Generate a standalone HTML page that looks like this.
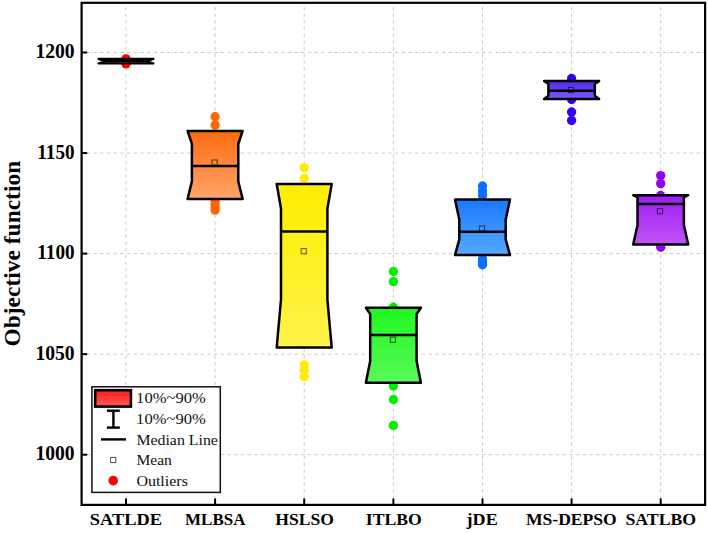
<!DOCTYPE html><html><head><meta charset="utf-8"><style>html,body{margin:0;padding:0;background:#fff;}svg{display:block;}text{font-family:"Liberation Serif",serif;}</style></head><body>
<svg width="708" height="533" viewBox="0 0 708 533">
<defs>
<linearGradient id="g0" x1="0" y1="0" x2="0" y2="1"><stop offset="0" stop-color="#ff1a1a"/><stop offset="1" stop-color="#ff5a5a"/></linearGradient>
<linearGradient id="g1" x1="0" y1="0" x2="0" y2="1"><stop offset="0" stop-color="#ff6a10"/><stop offset="1" stop-color="#ffa66a"/></linearGradient>
<linearGradient id="g2" x1="0" y1="0" x2="0" y2="1"><stop offset="0" stop-color="#ffee00"/><stop offset="1" stop-color="#fff34a"/></linearGradient>
<linearGradient id="g3" x1="0" y1="0" x2="0" y2="1"><stop offset="0" stop-color="#1ef81e"/><stop offset="1" stop-color="#5afa5a"/></linearGradient>
<linearGradient id="g4" x1="0" y1="0" x2="0" y2="1"><stop offset="0" stop-color="#1a78ff"/><stop offset="1" stop-color="#55aaff"/></linearGradient>
<linearGradient id="g5" x1="0" y1="0" x2="0" y2="1"><stop offset="0" stop-color="#4f25f0"/><stop offset="1" stop-color="#7d5cf8"/></linearGradient>
<linearGradient id="g6" x1="0" y1="0" x2="0" y2="1"><stop offset="0" stop-color="#9c1cf2"/><stop offset="1" stop-color="#c155f8"/></linearGradient>
<linearGradient id="gl" x1="0" y1="0" x2="0" y2="1"><stop offset="0" stop-color="#ff1a1a"/><stop offset="1" stop-color="#ff5a5a"/></linearGradient>
</defs>
<rect x="0" y="0" width="708" height="533" fill="#fff"/>
<g stroke="#cccccc" stroke-width="1" fill="none"><line x1="126.0" y1="2.8" x2="126.0" y2="504.9" stroke-dasharray="3.4 3.3" stroke-dashoffset="2.7"/><line x1="215.1" y1="2.8" x2="215.1" y2="504.9" stroke-dasharray="3.4 3.3" stroke-dashoffset="2.7"/><line x1="304.2" y1="2.8" x2="304.2" y2="504.9" stroke-dasharray="3.4 3.3" stroke-dashoffset="2.7"/><line x1="393.4" y1="2.8" x2="393.4" y2="504.9" stroke-dasharray="3.4 3.3" stroke-dashoffset="2.7"/><line x1="482.5" y1="2.8" x2="482.5" y2="504.9" stroke-dasharray="3.4 3.3" stroke-dashoffset="2.7"/><line x1="571.6" y1="2.8" x2="571.6" y2="504.9" stroke-dasharray="3.4 3.3" stroke-dashoffset="2.7"/><line x1="660.7" y1="2.8" x2="660.7" y2="504.9" stroke-dasharray="3.4 3.3" stroke-dashoffset="2.7"/><line x1="81.6" y1="454.70" x2="705.1" y2="454.70" stroke-dasharray="3.5 3.2" stroke-dashoffset="1.6"/><line x1="81.6" y1="354.15" x2="705.1" y2="354.15" stroke-dasharray="3.5 3.2" stroke-dashoffset="1.6"/><line x1="81.6" y1="253.60" x2="705.1" y2="253.60" stroke-dasharray="3.5 3.2" stroke-dashoffset="1.6"/><line x1="81.6" y1="153.05" x2="705.1" y2="153.05" stroke-dasharray="3.5 3.2" stroke-dashoffset="1.6"/><line x1="81.6" y1="52.50" x2="705.1" y2="52.50" stroke-dasharray="3.5 3.2" stroke-dashoffset="1.6"/></g>
<circle cx="126.0" cy="58.9" r="4.65" fill="#ff0000"/><circle cx="126.0" cy="63.9" r="4.65" fill="#ff0000"/>
<polygon points="98.50,58.90 153.50,58.90 146.50,61.20 146.50,61.20 153.50,63.50 98.50,63.50 105.50,61.20 105.50,61.20" fill="url(#g0)" stroke="#000" stroke-width="2.1" stroke-linejoin="round"/>
<line x1="105.50" y1="61.2" x2="146.50" y2="61.2" stroke="#000" stroke-width="2.6"/>
<circle cx="215.1" cy="116.7" r="4.65" fill="#ff6600"/><circle cx="215.1" cy="125.1" r="4.65" fill="#ff6600"/><circle cx="215.1" cy="201.5" r="4.65" fill="#ff6600"/><circle cx="215.1" cy="204.5" r="4.65" fill="#ff6600"/><circle cx="215.1" cy="207.5" r="4.65" fill="#ff6600"/><circle cx="215.1" cy="210.1" r="4.65" fill="#ff6600"/>
<polygon points="187.60,131.00 242.60,131.00 238.30,143.80 238.30,181.40 242.60,199.00 187.60,199.00 191.90,181.40 191.90,143.80" fill="url(#g1)" stroke="#000" stroke-width="2.5" stroke-linejoin="round"/>
<line x1="191.90" y1="166.0" x2="238.30" y2="166.0" stroke="#000" stroke-width="2.5"/>
<rect x="212.00" y="160.00" width="5.2" height="5.2" fill="none" stroke="#000" stroke-opacity="0.55" stroke-width="1.2"/>
<circle cx="304.2" cy="167.8" r="4.65" fill="#ffec00"/><circle cx="304.2" cy="178.5" r="4.65" fill="#ffec00"/><circle cx="304.2" cy="365.0" r="4.65" fill="#ffec00"/><circle cx="304.2" cy="370.0" r="4.65" fill="#ffec00"/><circle cx="304.2" cy="376.7" r="4.65" fill="#ffec00"/>
<polygon points="276.70,184.10 331.70,184.10 327.40,208.50 327.40,299.60 331.70,347.60 276.70,347.60 281.00,299.60 281.00,208.50" fill="url(#g2)" stroke="#000" stroke-width="2.5" stroke-linejoin="round"/>
<line x1="281.00" y1="231.6" x2="327.40" y2="231.6" stroke="#000" stroke-width="2.5"/>
<rect x="301.15" y="248.60" width="5.2" height="5.2" fill="none" stroke="#000" stroke-opacity="0.55" stroke-width="1.2"/>
<circle cx="393.4" cy="271.5" r="4.65" fill="#00f000"/><circle cx="393.4" cy="281.6" r="4.65" fill="#00f000"/><circle cx="393.4" cy="307.2" r="4.65" fill="#00f000"/><circle cx="393.4" cy="386.0" r="4.65" fill="#00f000"/><circle cx="393.4" cy="399.5" r="4.65" fill="#00f000"/><circle cx="393.4" cy="425.4" r="4.65" fill="#00f000"/>
<polygon points="365.90,307.70 420.90,307.70 416.60,314.00 416.60,361.00 420.90,382.70 365.90,382.70 370.20,361.00 370.20,314.00" fill="url(#g3)" stroke="#000" stroke-width="2.5" stroke-linejoin="round"/>
<line x1="370.20" y1="334.9" x2="416.60" y2="334.9" stroke="#000" stroke-width="2.5"/>
<rect x="390.30" y="337.10" width="5.2" height="5.2" fill="none" stroke="#000" stroke-opacity="0.55" stroke-width="1.2"/>
<circle cx="482.5" cy="186.0" r="4.65" fill="#0a6eff"/><circle cx="482.5" cy="191.0" r="4.65" fill="#0a6eff"/><circle cx="482.5" cy="195.5" r="4.65" fill="#0a6eff"/><circle cx="482.5" cy="259.0" r="4.65" fill="#0a6eff"/><circle cx="482.5" cy="262.0" r="4.65" fill="#0a6eff"/><circle cx="482.5" cy="264.8" r="4.65" fill="#0a6eff"/>
<polygon points="455.00,199.60 510.00,199.60 505.70,219.60 505.70,239.30 510.00,255.10 455.00,255.10 459.30,239.30 459.30,219.60" fill="url(#g4)" stroke="#000" stroke-width="2.5" stroke-linejoin="round"/>
<line x1="459.30" y1="231.8" x2="505.70" y2="231.8" stroke="#000" stroke-width="2.5"/>
<rect x="479.40" y="225.90" width="5.2" height="5.2" fill="none" stroke="#000" stroke-opacity="0.55" stroke-width="1.2"/>
<circle cx="571.6" cy="78.5" r="4.65" fill="#3300f0"/><circle cx="571.6" cy="99.5" r="4.65" fill="#3300f0"/><circle cx="571.6" cy="112.0" r="4.65" fill="#3300f0"/><circle cx="571.6" cy="120.5" r="4.65" fill="#3300f0"/>
<polygon points="544.10,80.90 599.10,80.90 594.80,84.00 594.80,95.80 599.10,98.90 544.10,98.90 548.40,95.80 548.40,84.00" fill="url(#g5)" stroke="#000" stroke-width="2.5" stroke-linejoin="round"/>
<line x1="548.40" y1="90.7" x2="594.80" y2="90.7" stroke="#000" stroke-width="2.5"/>
<rect x="568.40" y="87.40" width="5.2" height="5.2" fill="none" stroke="#000" stroke-opacity="0.55" stroke-width="1.2"/>
<circle cx="660.7" cy="175.6" r="4.65" fill="#9600f0"/><circle cx="660.7" cy="183.6" r="4.65" fill="#9600f0"/><circle cx="660.7" cy="195.5" r="4.65" fill="#9600f0"/><circle cx="660.7" cy="247.3" r="4.65" fill="#9600f0"/>
<polygon points="633.20,195.20 688.20,195.20 683.90,197.30 683.90,225.00 688.20,244.50 633.20,244.50 637.50,225.00 637.50,197.30" fill="url(#g6)" stroke="#000" stroke-width="2.5" stroke-linejoin="round"/>
<line x1="637.50" y1="204.1" x2="683.90" y2="204.1" stroke="#000" stroke-width="2.5"/>
<rect x="657.40" y="208.60" width="5.2" height="5.2" fill="none" stroke="#000" stroke-opacity="0.55" stroke-width="1.2"/>
<rect x="81.6" y="2.8" width="623.50" height="502.10" fill="none" stroke="#000" stroke-width="2.2"/>
<g stroke="#000" stroke-width="2"><line x1="81.6" y1="454.70" x2="87.20" y2="454.70"/><line x1="81.6" y1="354.15" x2="87.20" y2="354.15"/><line x1="81.6" y1="253.60" x2="87.20" y2="253.60"/><line x1="81.6" y1="153.05" x2="87.20" y2="153.05"/><line x1="81.6" y1="52.50" x2="87.20" y2="52.50"/><line x1="126.0" y1="504.9" x2="126.0" y2="498.50"/><line x1="215.1" y1="504.9" x2="215.1" y2="498.50"/><line x1="304.2" y1="504.9" x2="304.2" y2="498.50"/><line x1="393.4" y1="504.9" x2="393.4" y2="498.50"/><line x1="482.5" y1="504.9" x2="482.5" y2="498.50"/><line x1="571.6" y1="504.9" x2="571.6" y2="498.50"/><line x1="660.7" y1="504.9" x2="660.7" y2="498.50"/></g>
<text x="74.6" y="460.40" text-anchor="end" font-weight="bold" font-size="20.5" textLength="39.2" lengthAdjust="spacingAndGlyphs">1000</text>
<text x="74.6" y="359.85" text-anchor="end" font-weight="bold" font-size="20.5" textLength="39.2" lengthAdjust="spacingAndGlyphs">1050</text>
<text x="74.6" y="259.30" text-anchor="end" font-weight="bold" font-size="20.5" textLength="37.3" lengthAdjust="spacingAndGlyphs">1100</text>
<text x="74.6" y="158.75" text-anchor="end" font-weight="bold" font-size="20.5" textLength="37.3" lengthAdjust="spacingAndGlyphs">1150</text>
<text x="74.6" y="58.20" text-anchor="end" font-weight="bold" font-size="20.5" textLength="39.2" lengthAdjust="spacingAndGlyphs">1200</text>
<text x="125.85" y="524.9" text-anchor="middle" font-weight="bold" font-size="17.4" textLength="72.1" lengthAdjust="spacingAndGlyphs">SATLDE</text>
<text x="215.25" y="524.9" text-anchor="middle" font-weight="bold" font-size="17.4" textLength="60.3" lengthAdjust="spacingAndGlyphs">MLBSA</text>
<text x="304.6" y="524.9" text-anchor="middle" font-weight="bold" font-size="17.4" textLength="58.7" lengthAdjust="spacingAndGlyphs">HSLSO</text>
<text x="393.75" y="524.9" text-anchor="middle" font-weight="bold" font-size="17.4" textLength="56.0" lengthAdjust="spacingAndGlyphs">ITLBO</text>
<text x="482.15" y="524.9" text-anchor="middle" font-weight="bold" font-size="17.4" textLength="31.1" lengthAdjust="spacingAndGlyphs">jDE</text>
<text x="571.35" y="524.9" text-anchor="middle" font-weight="bold" font-size="17.4" textLength="90.8" lengthAdjust="spacingAndGlyphs">MS-DEPSO</text>
<text x="660.8" y="524.9" text-anchor="middle" font-weight="bold" font-size="17.4" textLength="70.8" lengthAdjust="spacingAndGlyphs">SATLBO</text>
<text transform="translate(19.8,253.65) rotate(-90)" text-anchor="middle" font-weight="bold" font-size="23.4" textLength="185.7" lengthAdjust="spacingAndGlyphs">Objective function</text>
<rect x="91.9" y="386.8" width="128.4" height="105.6" fill="#fff" stroke="#111" stroke-width="1.5"/>
<rect x="95.2" y="390.2" width="35.7" height="16.4" fill="url(#gl)" stroke="#000" stroke-width="2.6"/>
<g stroke="#000" stroke-width="2.4"><line x1="106.9" y1="410.7" x2="119.8" y2="410.7"/><line x1="113.4" y1="410.7" x2="113.4" y2="427.6"/><line x1="106.9" y1="427.6" x2="119.8" y2="427.6"/></g>
<line x1="101" y1="439.4" x2="126" y2="439.4" stroke="#000" stroke-width="2.4"/>
<rect x="110.6" y="457.4" width="5.2" height="5.2" fill="none" stroke="#555" stroke-width="1"/>
<circle cx="113.2" cy="480.6" r="4.8" fill="#ff0000"/>
<text x="136.1" y="403.2" font-size="15.5" fill="#111" textLength="69.7" lengthAdjust="spacingAndGlyphs">10%~90%</text>
<text x="136.1" y="424.0" font-size="15.5" fill="#111" textLength="69.7" lengthAdjust="spacingAndGlyphs">10%~90%</text>
<text x="136.4" y="444.8" font-size="15.5" fill="#111" textLength="81.5" lengthAdjust="spacingAndGlyphs">Median Line</text>
<text x="136.4" y="465.3" font-size="15.5" fill="#111" textLength="35.5" lengthAdjust="spacingAndGlyphs">Mean</text>
<text x="136.4" y="485.8" font-size="15.5" fill="#111" textLength="51.5" lengthAdjust="spacingAndGlyphs">Outliers</text>
</svg></body></html>
